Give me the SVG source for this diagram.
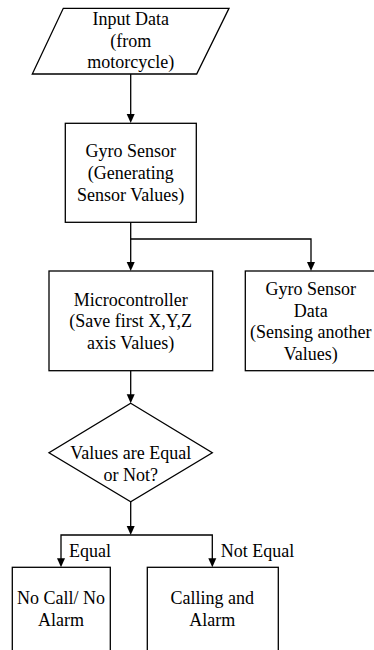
<svg xmlns="http://www.w3.org/2000/svg" width="374" height="650" viewBox="0 0 374 650">
<style>
.s{fill:#fff;stroke:#000;stroke-width:1.3}
.c{fill:none;stroke:#000;stroke-width:1.3}
</style>
<rect width="374" height="650" fill="#fff"/>
<g id="connectors">
<path class="c" d="M130.7,74 V115"/>
<path class="c" d="M130.7,222 V263"/>
<path class="c" d="M130.7,239 H311 V263"/>
<path class="c" d="M130.7,370.7 V395"/>
<path class="c" d="M130.7,501.7 V527"/>
<path class="c" d="M61,559 V535 H212.3 V559"/>
<path d="M126.7,114 L134.7,114 L130.7,123 Z"/>
<path d="M126.7,262 L134.7,262 L130.7,271 Z"/>
<path d="M307,262 L315,262 L311,271 Z"/>
<path d="M126.7,394.3 L134.7,394.3 L130.7,403.3 Z"/>
<path d="M126.7,526 L134.7,526 L130.7,535 Z"/>
<path d="M57,558.3 L65,558.3 L61,567.3 Z"/>
<path d="M208.3,558.3 L216.3,558.3 L212.3,567.3 Z"/>
</g>
<g id="input">
<polygon class="s" points="63.3,8.3 229,8.3 196.7,74 32.3,74"/>
<text x="130.7" y="25" font-family="Times New Roman" font-size="18" text-anchor="middle">Input Data</text>
<text x="130.7" y="46.7" font-family="Times New Roman" font-size="18" text-anchor="middle">(from</text>
<text x="130.7" y="68.3" font-family="Times New Roman" font-size="18" text-anchor="middle">motorcycle)</text>
</g>
<g id="gyro">
<rect class="s" x="65.3" y="123.3" width="131" height="99"/>
<text x="130.7" y="157" font-family="Times New Roman" font-size="18" text-anchor="middle">Gyro Sensor</text>
<text x="130.7" y="179" font-family="Times New Roman" font-size="18" text-anchor="middle">(Generating</text>
<text x="130.7" y="200.7" font-family="Times New Roman" font-size="18" text-anchor="middle">Sensor Values)</text>
</g>
<g id="micro">
<rect class="s" x="49" y="271" width="163.7" height="99.7"/>
<text x="130.7" y="305.7" font-family="Times New Roman" font-size="18" text-anchor="middle">Microcontroller</text>
<text x="130.7" y="327.3" font-family="Times New Roman" font-size="18" text-anchor="middle">(Save first X,Y,Z</text>
<text x="130.7" y="349" font-family="Times New Roman" font-size="18" text-anchor="middle">axis Values)</text>
</g>
<g id="gyrodata">
<rect class="s" x="245.3" y="271" width="140" height="99.7"/>
<text x="310.7" y="295" font-family="Times New Roman" font-size="18" text-anchor="middle">Gyro Sensor</text>
<text x="310.7" y="316.7" font-family="Times New Roman" font-size="18" text-anchor="middle">Data</text>
<text x="310.7" y="338.3" font-family="Times New Roman" font-size="18" text-anchor="middle">(Sensing another</text>
<text x="310.7" y="360" font-family="Times New Roman" font-size="18" text-anchor="middle">Values)</text>
</g>
<g id="decision">
<polygon class="s" points="130.7,403.3 212.3,452.7 130.7,501.7 49,452.7"/>
<text x="130.7" y="459" font-family="Times New Roman" font-size="18" text-anchor="middle">Values are Equal</text>
<text x="130.7" y="480.7" font-family="Times New Roman" font-size="18" text-anchor="middle">or Not?</text>
</g>
<g id="labels">
<text x="69" y="556.7" font-family="Times New Roman" font-size="18">Equal</text>
<text x="220.7" y="556.7" font-family="Times New Roman" font-size="18">Not Equal</text>
</g>
<g id="nocall">
<rect class="s" x="12.3" y="567.3" width="98" height="100"/>
<text x="61" y="604" font-family="Times New Roman" font-size="18" text-anchor="middle">No Call/ No</text>
<text x="61" y="625.7" font-family="Times New Roman" font-size="18" text-anchor="middle">Alarm</text>
</g>
<g id="calling">
<rect class="s" x="147.3" y="567.3" width="131" height="100"/>
<text x="212.3" y="604" font-family="Times New Roman" font-size="18" text-anchor="middle">Calling and</text>
<text x="212.3" y="625.7" font-family="Times New Roman" font-size="18" text-anchor="middle">Alarm</text>
</g>
</svg>
